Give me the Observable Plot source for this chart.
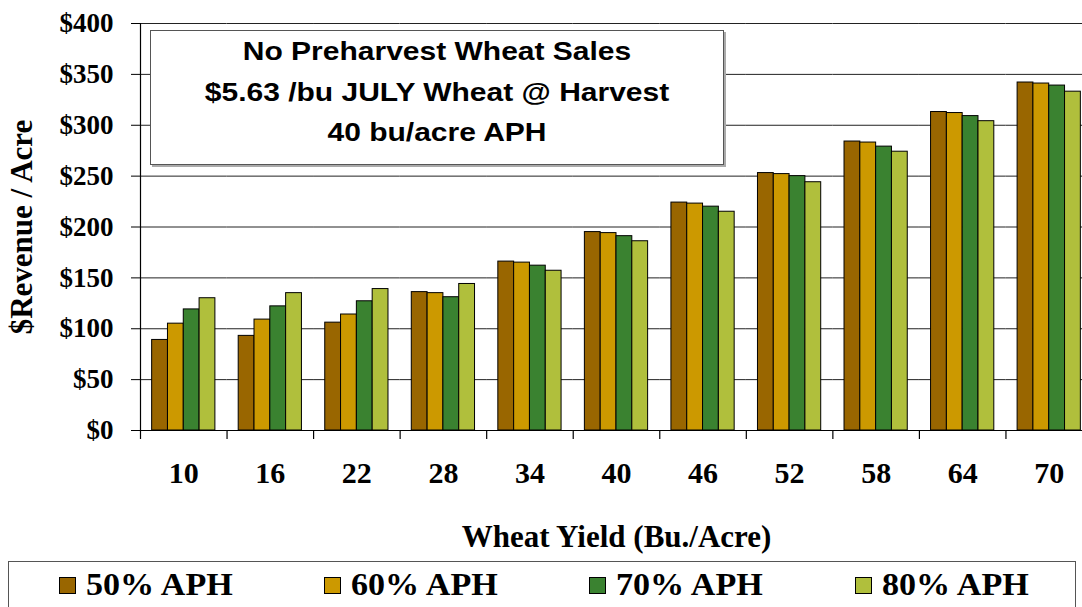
<!DOCTYPE html>
<html>
<head>
<meta charset="utf-8">
<script src="https://cdn.jsdelivr.net/npm/d3@7"></script>
<script src="https://cdn.jsdelivr.net/npm/@observablehq/plot@0.6"></script>
<style>
  html, body { margin: 0; padding: 0; background: #fff; overflow: hidden; }
  #wrap { position: relative; width: 1082px; height: 607px; overflow: hidden; background: #fff; }
  #chart svg { max-width: none !important; display: block; }
  #chart svg text { font-family: "Liberation Serif", "Times New Roman", serif; font-weight: bold; fill: #000; }
  #chart g[aria-label="y-axis tick label"] text { font-size: 27px; }
  #chart g[aria-label="fx-axis tick label"] text { font-size: 30px; }
  #chart g[aria-label="y-axis label"] text { font-size: 31px; }
  #chart g[aria-label="fx-axis label"] text { font-size: 31px; }
  #titlebox {
    position: absolute; left: 150px; top: 30px; width: 572px; height: 133px;
    border: 1.5px solid #555; background: #fff; box-shadow: 2px 2px 0 #aaa;
    font-family: "Liberation Sans", Arial, sans-serif; font-weight: bold; font-size: 25px;
    text-align: center; line-height: 40.5px; color: #000;
  }
  #titlebox .inner { transform: scaleX(1.2); transform-origin: center; }
  #legend {
    position: absolute; left: 8px; top: 561px; width: 1068px; height: 60px;
    border: 1.5px solid #555; box-sizing: border-box; background: #fff;
    display: flex; justify-content: space-between; align-items: flex-start;
    padding: 0 60px 0 50px;
    font-family: "Liberation Serif", "Times New Roman", serif; font-weight: bold; font-size: 31px; color: #000;
  }
  #legend .item { display: flex; align-items: center; margin-top: 6px; line-height: 34px; }
  #legend .item span { display: inline-block; transform: scaleX(1.1); transform-origin: left center; }
  #legend .sw { width: 17px; height: 17px; border: 1px solid #000; margin-right: 10px; box-sizing: border-box; }
</style>
</head>
<body>
<div id="wrap">
  <div id="chart"></div>
  <div id="titlebox"><div class="inner" id="titletext"></div></div>
  <div id="legend"></div>
</div>
<script>
// ---- data ----
const yields = ["10", "16", "22", "28", "34", "40", "46", "52", "58", "64", "70"];
const series = ["50% APH", "60% APH", "70% APH", "80% APH"];
const colors = ["#996600", "#CC9900", "#3A8230", "#B0BF3C"];
const aph50 = [89, 93, 106, 136, 166, 195, 224, 253, 284, 313, 342];
const aph60 = [105, 109, 114, 135, 165, 194, 223, 252, 283, 312, 341];
const aph70 = [119, 122, 127, 131, 162, 191, 220, 250, 279, 309, 339];
const aph80 = [130, 135, 139, 144, 157, 186, 215, 244, 274, 304, 333];
const yTicks = [0, 50, 100, 150, 200, 250, 300, 350, 400];
const titleLines = ["No Preharvest Wheat Sales", "$5.63 /bu JULY Wheat @ Harvest", "40 bu/acre APH"];
const xLabel = "Wheat Yield (Bu./Acre)";
const yLabel = "$Revenue / Acre";

// ---- table for Plot ----
const valuesBySeries = [aph50, aph60, aph70, aph80];
const rows = [];
yields.forEach((yl, i) => {
  series.forEach((s, j) => rows.push({yield: yl, series: s, value: valuesBySeries[j][i]}));
});

const W = 1092, H = 560;
const stepHalf = (W - 140) / yields.length / 2;

const chart = Plot.plot({
  width: W,
  height: H,
  marginLeft: 140,
  marginRight: 0,
  marginTop: 23,
  marginBottom: 130,
  style: {background: "#fff", overflow: "hidden"},
  fx: {domain: yields, padding: 0, round: false},
  x: {domain: series, paddingInner: 0, paddingOuter: 0.737, round: false, axis: null},
  y: {domain: [0, 400]},
  color: {domain: series, range: colors},
  marks: [
    Plot.gridY(yTicks, {stroke: "#222", strokeOpacity: 1, strokeWidth: 1}),
    Plot.barY(rows, {fx: "yield", x: "series", y: "value", fill: "series", stroke: "#000", strokeWidth: 1}),
    Plot.ruleY([0], {stroke: "#000", strokeWidth: 1.2}),
    // category separator ticks below baseline
    Plot.ruleX(yields, {fx: d => d, x: null, dx: -stepHalf, y1: 0, y2: 0, insetBottom: -9, stroke: "#000", strokeWidth: 1.2}),
    // y axis line
    Plot.ruleX([yields[0]], {fx: d => d, x: null, dx: -stepHalf, y1: 0, y2: 400, stroke: "#000", strokeWidth: 1.2}),
    Plot.axisY(yTicks, {
      tickFormat: d => "$" + d,
      tickSize: 9,
      tickPadding: 18,
      label: yLabel,
      labelAnchor: "center",
      labelArrow: "none",
      labelOffset: 131,
      stroke: "#000"
    }),
    Plot.axisFx({
      anchor: "bottom",
      tickSize: 0,
      tickPadding: 31,
      label: xLabel,
      labelAnchor: "center",
      labelArrow: "none",
      labelOffset: 116
    })
  ]
});
document.getElementById("chart").appendChild(chart);

// title box text
const tt = document.getElementById("titletext");
titleLines.forEach(l => { const d = document.createElement("div"); d.textContent = l; tt.appendChild(d); });

// legend
const lg = document.getElementById("legend");
series.forEach((s, j) => {
  const it = document.createElement("div"); it.className = "item";
  const sw = document.createElement("div"); sw.className = "sw"; sw.style.background = colors[j];
  const tx = document.createElement("span"); tx.textContent = s;
  it.appendChild(sw); it.appendChild(tx); lg.appendChild(it);
});
</script>
</body>
</html>
